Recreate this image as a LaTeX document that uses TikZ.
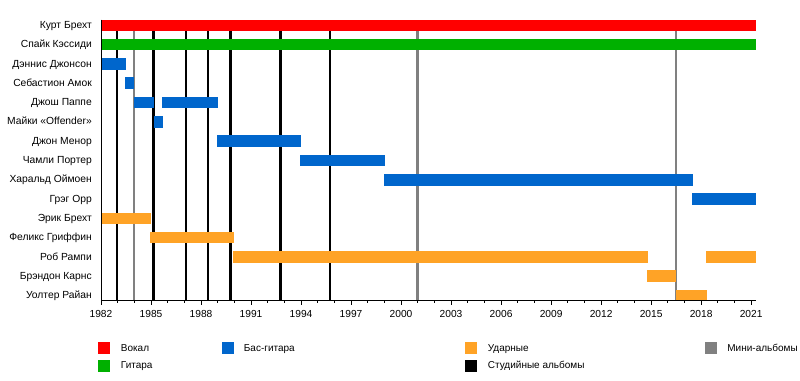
\documentclass[tikz,border=0pt]{standalone}
\usepackage{fontspec}
\setmainfont{Liberation Sans}
\usetikzlibrary{positioning}

\definecolor{vocal}{RGB}{255,0,0}
\definecolor{guitar}{RGB}{0,176,0}
\definecolor{bass}{RGB}{0,102,204}
\definecolor{drums}{RGB}{255,163,38}
\definecolor{eps}{RGB}{128,128,128}

\tikzset{
  rowlabel/.style={anchor=east, inner sep=0pt, text height=1.5ex, text depth=.3ex,
    font=\fontsize{10.3}{12}\selectfont},
  yearlabel/.style={anchor=north, inner sep=0pt, font=\fontsize{10.2}{12}\selectfont},
  legtext/.style={inner sep=0pt, text height=1.5ex, text depth=.3ex,
    font=\fontsize{10}{12}\selectfont},
  swatch/.style={minimum size=12pt, inner sep=0pt},
  album/.style={line width=2.3pt, black},
  epline/.style={line width=2.3pt, eps},
  axisline/.style={line width=0.8pt, black},
}

\begin{document}
\begin{tikzpicture}[x=1pt, y=-1pt]

    \useasboundingbox (0,0) rectangle (800,380);
    \fill[white] (0,0) rectangle (800,380);

    % имена участников
    \foreach \i/\txt in {0/Курт Брехт, 1/Спайк Кэссиди, 2/Дэннис Джонсон,
        3/Себастион Амок, 4/Джош Паппе, 5/Майки «Offender», 6/Джон Менор,
        7/Чамли Портер, 8/Харальд Оймоен, 9/Грэг Орр, 10/Эрик Брехт,
        11/Феликс Гриффин, 12/Роб Рампи, 13/Брэндон Карнс, 14/Уолтер Райан}
        \node[rowlabel] (lbl\i) at (92,{25.3+19.3*\i}) {\txt};

    % шкала: 1982 -> x=101, 1 год = 16.67
    \begin{scope}[xshift=101pt, x=16.67pt]

        % студийные альбомы и мини-альбомы
        \foreach \a in {1982.95,1985.15,1987.1,1988.43,1989.77,1992.77,1995.75}
            \draw[album] ({\a-1982},20) -- ({\a-1982},300);
        \foreach \a in {1983.96,2000.99,2016.51}
            \draw[epline] ({\a-1982},20) -- ({\a-1982},300);

        % полосы участников
        \foreach \r/\a/\b/\c in {
            0/1982/2021.27/vocal,
            1/1982/2021.27/guitar,
            2/1982/1983.5/bass,
            3/1983.45/1983.95/bass,
            4/1983.95/1985.2/bass,
            4/1985.64/1989/bass,
            5/1985.18/1985.7/bass,
            6/1988.95/1994/bass,
            7/1993.95/1999.02/bass,
            8/1998.98/2017.5/bass,
            9/2017.45/2021.27/bass,
            10/1982/1984.98/drums,
            11/1984.95/1989.98/drums,
            12/1989.9/2014.8/drums,
            12/2018.3/2021.27/drums,
            13/2014.78/2016.5/drums,
            14/2016.47/2018.35/drums}
            \fill[\c] ({\a-1982},{25.3+19.3*\r-5.8}) rectangle ({\b-1982},{25.3+19.3*\r+5.8});

        % оси
        \draw[axisline] (0,19.5) -- (0,300) -- ({2021.27-1982},300);
        \foreach \y in {1982,...,2021}
            \draw[axisline] ({\y-1982},300) -- ({\y-1982},302.5);
        \foreach \y in {1982,1985,...,2021} {
            \draw[axisline] ({\y-1982},300) -- ({\y-1982},305);
            \node[yearlabel] (yr\y) at ({\y-1982},310.5) {\y};
        }

    \end{scope}

    % легенда
    \node[swatch, fill=vocal] (swVocal) at (104,348.3) {};
    \node[swatch, fill=guitar] (swGuitar) at (104,365.5) {};
    \node[swatch, fill=bass] (swBass) at (228,348.3) {};
    \node[swatch, fill=drums] (swDrums) at (471,348.3) {};
    \node[swatch, fill=black] (swAlbum) at (471,365.5) {};
    \node[swatch, fill=eps] (swEp) at (711,348.3) {};

    \node[legtext, right=10.5pt of swVocal] (txVocal) {Вокал};
    \node[legtext, right=10.5pt of swGuitar] (txGuitar) {Гитара};
    \node[legtext, right=9.5pt of swBass] (txBass) {Бас-гитара};
    \node[legtext, right=10.5pt of swDrums] (txDrums) {Ударные};
    \node[legtext, right=10.5pt of swAlbum] (txAlbum) {Студийные альбомы};
    \node[legtext, right=10pt of swEp] (txEp) {Мини-альбомы};

\end{tikzpicture}
\end{document}
